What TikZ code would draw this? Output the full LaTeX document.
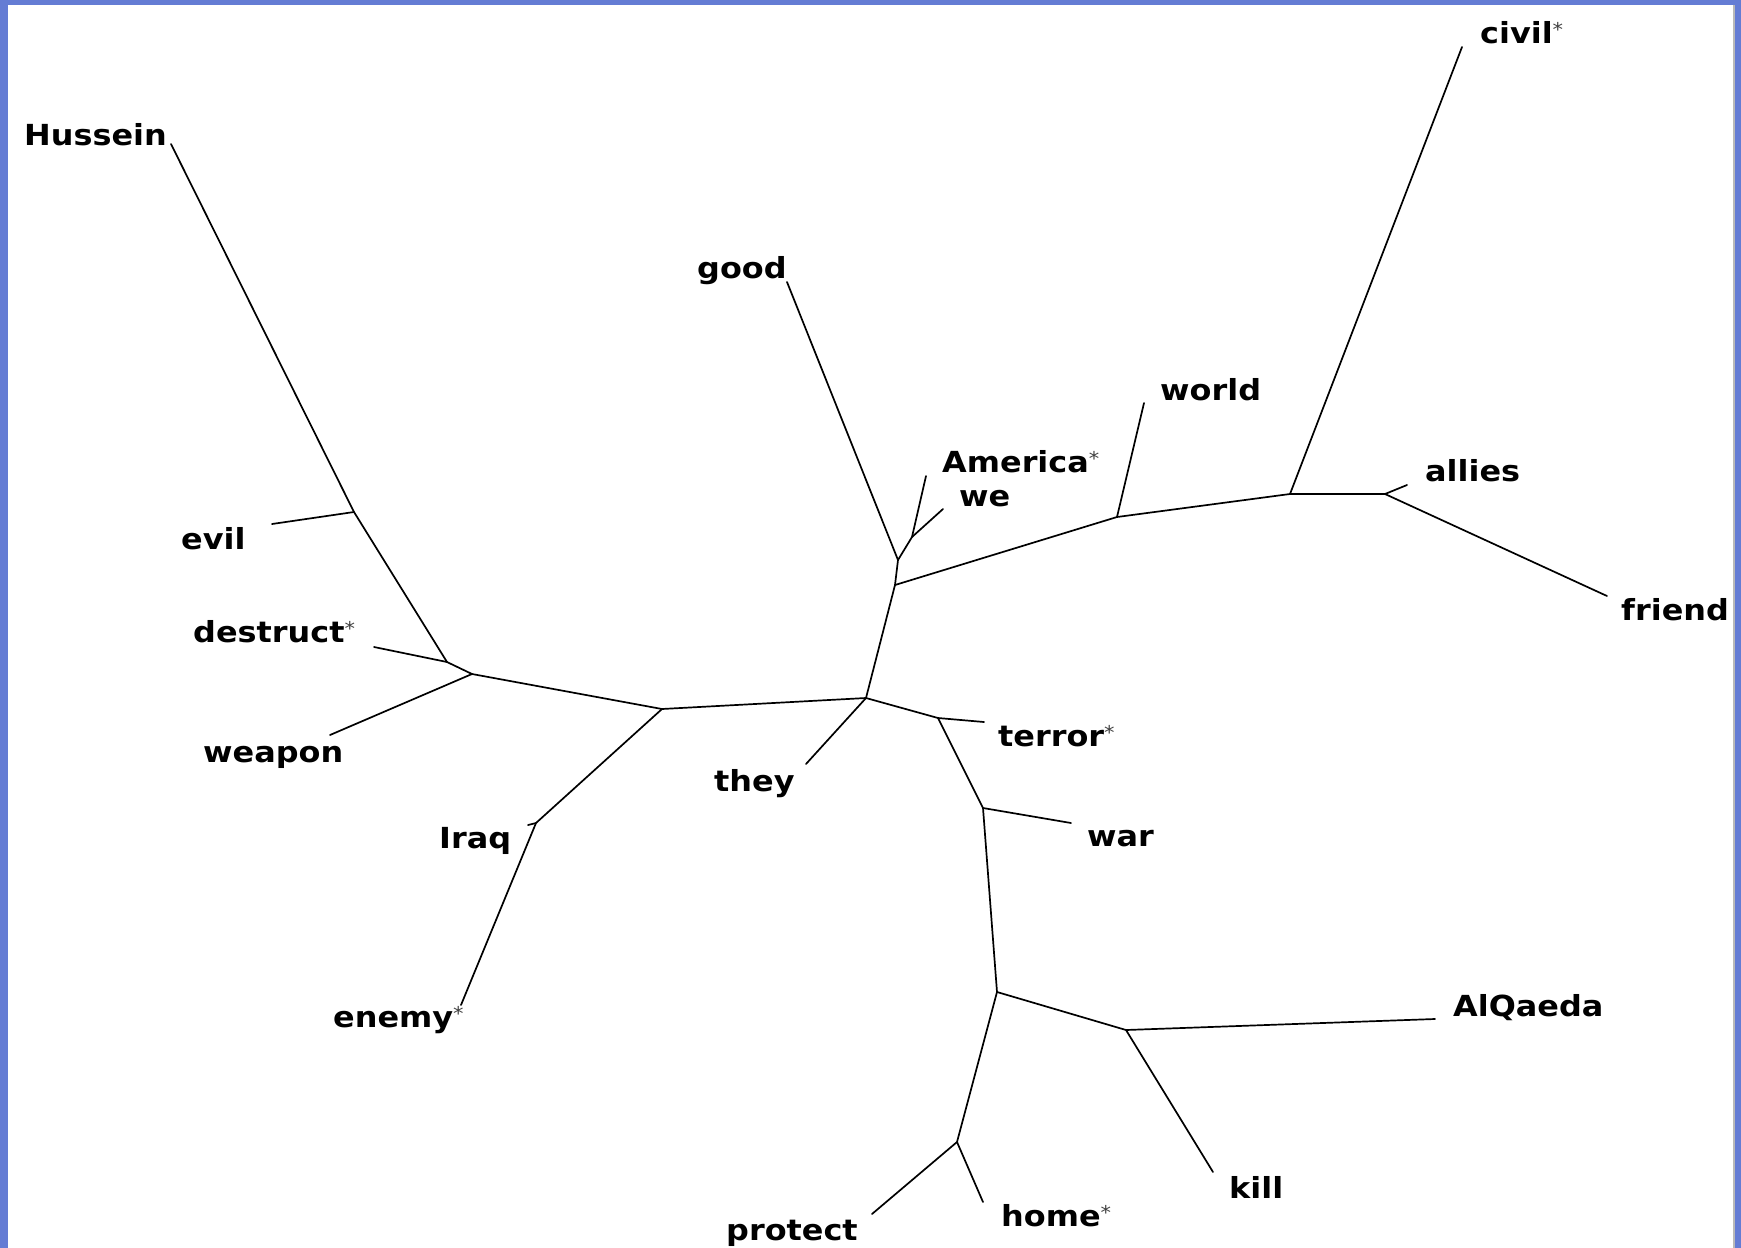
\documentclass[tikz,border=0pt]{standalone}
\usepackage{fontspec}
\setmainfont{DejaVu Sans}
\definecolor{frameblue}{RGB}{100,124,212}
\newcommand\tlab[1]{\scalebox{1.1}[1]{#1}}
\newcommand\starmark{\raisebox{7pt}{\fontsize{19}{19}\selectfont\mdseries\color{black!75}*}}
\begin{document}
\begin{tikzpicture}[x=1pt,y=-1pt,
  br/.style={line width=1.7pt, black, line cap=round},
  lbl/.style={anchor=base west, inner sep=0pt, text=black, font=\fontsize{29}{29}\selectfont\bfseries}]
\useasboundingbox (0,0) rectangle (1741,1248);
\fill[frameblue] (0,0) rectangle (1741,1248);
\fill[white] (8,5) rectangle (1733,1248);
\draw[gray!55, line width=2pt] (1734,5) -- (1734,1248);

% junctions
\coordinate (jevil) at (354,512);
\coordinate (jhd) at (447,662);
\coordinate (jw) at (472,674);
\coordinate (jiq) at (662,709);
\coordinate (iq) at (536,823);
\coordinate (jc) at (866,698);
\coordinate (jr) at (895,585);
\coordinate (jg) at (898,560);
\coordinate (jaw) at (912,537);
\coordinate (jworld) at (1117,517);
\coordinate (jciv) at (1290,494);
\coordinate (jal) at (1385,494);
\coordinate (jt) at (938,718);
\coordinate (jwar) at (983,808);
\coordinate (jlow) at (997,992);
\coordinate (jk) at (1126,1030);
\coordinate (jph) at (957,1142);
% leaf ends
\coordinate (eHussein) at (171,144);
\coordinate (eevil) at (272,524);
\coordinate (edestruct) at (374,647);
\coordinate (eweapon) at (330,735);
\coordinate (eiraq) at (528,825);
\coordinate (eenemy) at (461,1005);
\coordinate (ethey) at (806,764);
\coordinate (egood) at (787,282);
\coordinate (eamerica) at (926,476);
\coordinate (ewe) at (943,509);
\coordinate (eworld) at (1144,403);
\coordinate (ecivil) at (1462,47);
\coordinate (eallies) at (1407,485);
\coordinate (efriend) at (1607,596);
\coordinate (eterror) at (984,722);
\coordinate (ewar) at (1071,823);
\coordinate (ealqaeda) at (1435,1019);
\coordinate (ekill) at (1213,1172);
\coordinate (eprotect) at (872,1214);
\coordinate (ehome) at (983,1202);

% labels
\node[lbl] (tHussein) at (24,145) {\tlab{Hussein}};
\node[lbl] (tcivil) at (1480,43) {\tlab{civil\starmark}};
\node[lbl] (tgood) at (697,278) {\tlab{good}};
\node[lbl] (tworld) at (1160,400) {\tlab{world}};
\node[lbl] (tamerica) at (942,472) {\tlab{America\starmark}};
\node[lbl] (twe) at (959,506) {\tlab{we}};
\node[lbl] (tallies) at (1425,481) {\tlab{allies}};
\node[lbl] (tfriend) at (1621,620) {\tlab{friend}};
\node[lbl] (tevil) at (181,549) {\tlab{evil}};
\node[lbl] (tdestruct) at (193,642) {\tlab{destruct\starmark}};
\node[lbl] (tweapon) at (203,762) {\tlab{weapon}};
\node[lbl] (tterror) at (998,746) {\tlab{terror\starmark}};
\node[lbl] (tthey) at (714,791) {\tlab{they}};
\node[lbl] (twar) at (1087,846) {\tlab{war}};
\node[lbl] (tiraq) at (439,848) {\tlab{Iraq}};
\node[lbl] (tenemy) at (333,1027) {\tlab{enemy\starmark}};
\node[lbl] (talqaeda) at (1453,1016) {\tlab{AlQaeda}};
\node[lbl] (tkill) at (1229,1198) {\tlab{kill}};
\node[lbl] (thome) at (1001,1226) {\tlab{home\starmark}};
\node[lbl] (tprotect) at (726,1240) {\tlab{protect}};

% branches
\draw[br] (eHussein) -- (jevil) -- (jhd) -- (jw) -- (jiq) -- (jc) -- (jr) -- (jg) -- (egood);
\draw[br] (jevil) -- (eevil);
\draw[br] (jhd) -- (edestruct);
\draw[br] (jw) -- (eweapon);
\draw[br] (jiq) -- (iq) -- (eenemy);
\draw[br] (iq) -- (eiraq);
\draw[br] (jc) -- (ethey);
\draw[br] (jg) -- (jaw) -- (eamerica);
\draw[br] (jaw) -- (ewe);
\draw[br] (jr) -- (jworld) -- (jciv) -- (jal) -- (efriend);
\draw[br] (jworld) -- (eworld);
\draw[br] (jciv) -- (ecivil);
\draw[br] (jal) -- (eallies);
\draw[br] (jc) -- (jt) -- (eterror);
\draw[br] (jt) -- (jwar) -- (ewar);
\draw[br] (jwar) -- (jlow) -- (jk) -- (ealqaeda);
\draw[br] (jk) -- (ekill);
\draw[br] (jlow) -- (jph) -- (eprotect);
\draw[br] (jph) -- (ehome);
\end{tikzpicture}
\end{document}
